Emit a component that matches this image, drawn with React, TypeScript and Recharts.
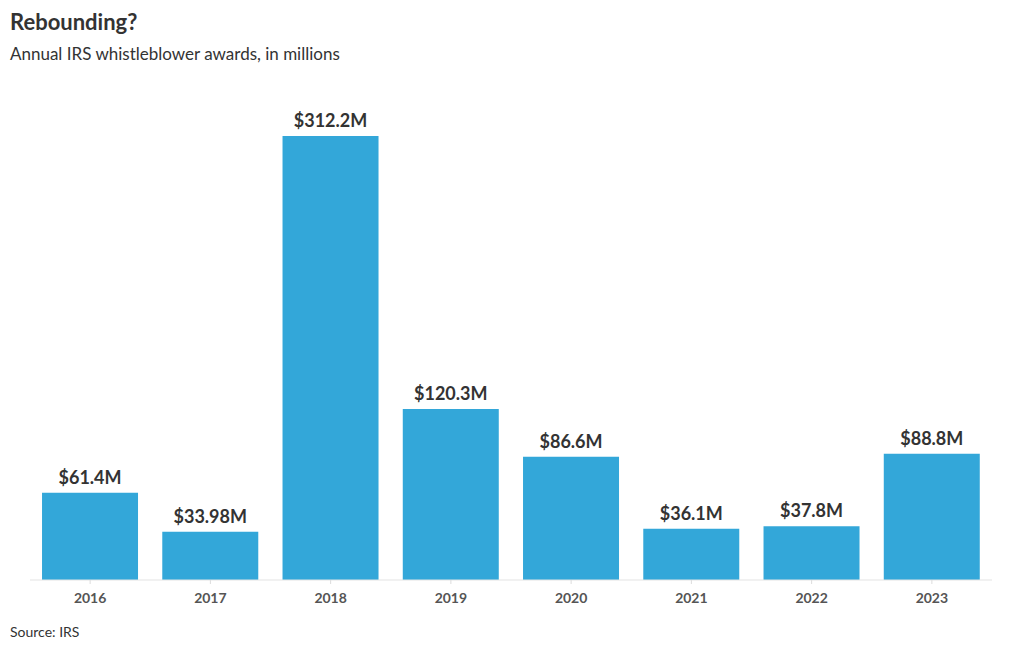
import { BarChart, Bar, XAxis, YAxis, LabelList } from "recharts";

const years = ["2016", "2017", "2018", "2019", "2020", "2021", "2022", "2023"];
const awards = [61.4, 33.98, 312.2, 120.3, 86.6, 36.1, 37.8, 88.8];
const awardLabels = ["$61.4M", "$33.98M", "$312.2M", "$120.3M", "$86.6M", "$36.1M", "$37.8M", "$88.8M"];

const data = years.map((year, i) => ({
  year,
  value: awards[i],
  label: awardLabels[i],
}));

const font = "Lato, 'Open Sans', sans-serif";

export default function App() {
  return (
    <div
      style={{
        position: "absolute",
        left: 0,
        top: 0,
        width: 1020,
        height: 650,
        background: "#fff",
        fontFamily: font,
      }}
    >
      <div
        style={{
          position: "absolute",
          left: 10,
          top: 8,
          fontSize: 22,
          fontWeight: 700,
          color: "#333",
        }}
      >
        Rebounding?
      </div>
      <div
        style={{
          position: "absolute",
          left: 10,
          top: 43,
          fontSize: 17,
          color: "#333",
        }}
      >
        Annual IRS whistleblower awards, in millions
      </div>
      <div style={{ position: "absolute", left: 0, top: 0 }}>
        <BarChart
          width={1020}
          height={650}
          data={data}
          margin={{ top: 136, right: 28, bottom: 40, left: 30 }}
          barCategoryGap="10%"
        >
          <XAxis
            dataKey="year"
            height={30}
            axisLine={{ stroke: "#e3e3e3" }}
            tickLine={{ stroke: "#dcdcdc" }}
            tickSize={4}
            tickMargin={9}
            tick={{ fill: "#555", fontSize: 14, fontWeight: 700, fontFamily: font }}
          />
          <YAxis hide domain={[0, "dataMax"]} />
          <Bar dataKey="value" fill="#33a7d9" isAnimationActive={false}>
            <LabelList
              dataKey="label"
              position="top"
              offset={9}
              style={{ fill: "#333", fontSize: 18, fontWeight: 700, fontFamily: font }}
            />
          </Bar>
        </BarChart>
      </div>
      <div
        style={{
          position: "absolute",
          left: 10,
          top: 623,
          fontSize: 14,
          color: "#333",
        }}
      >
        Source: IRS
      </div>
    </div>
  );
}
